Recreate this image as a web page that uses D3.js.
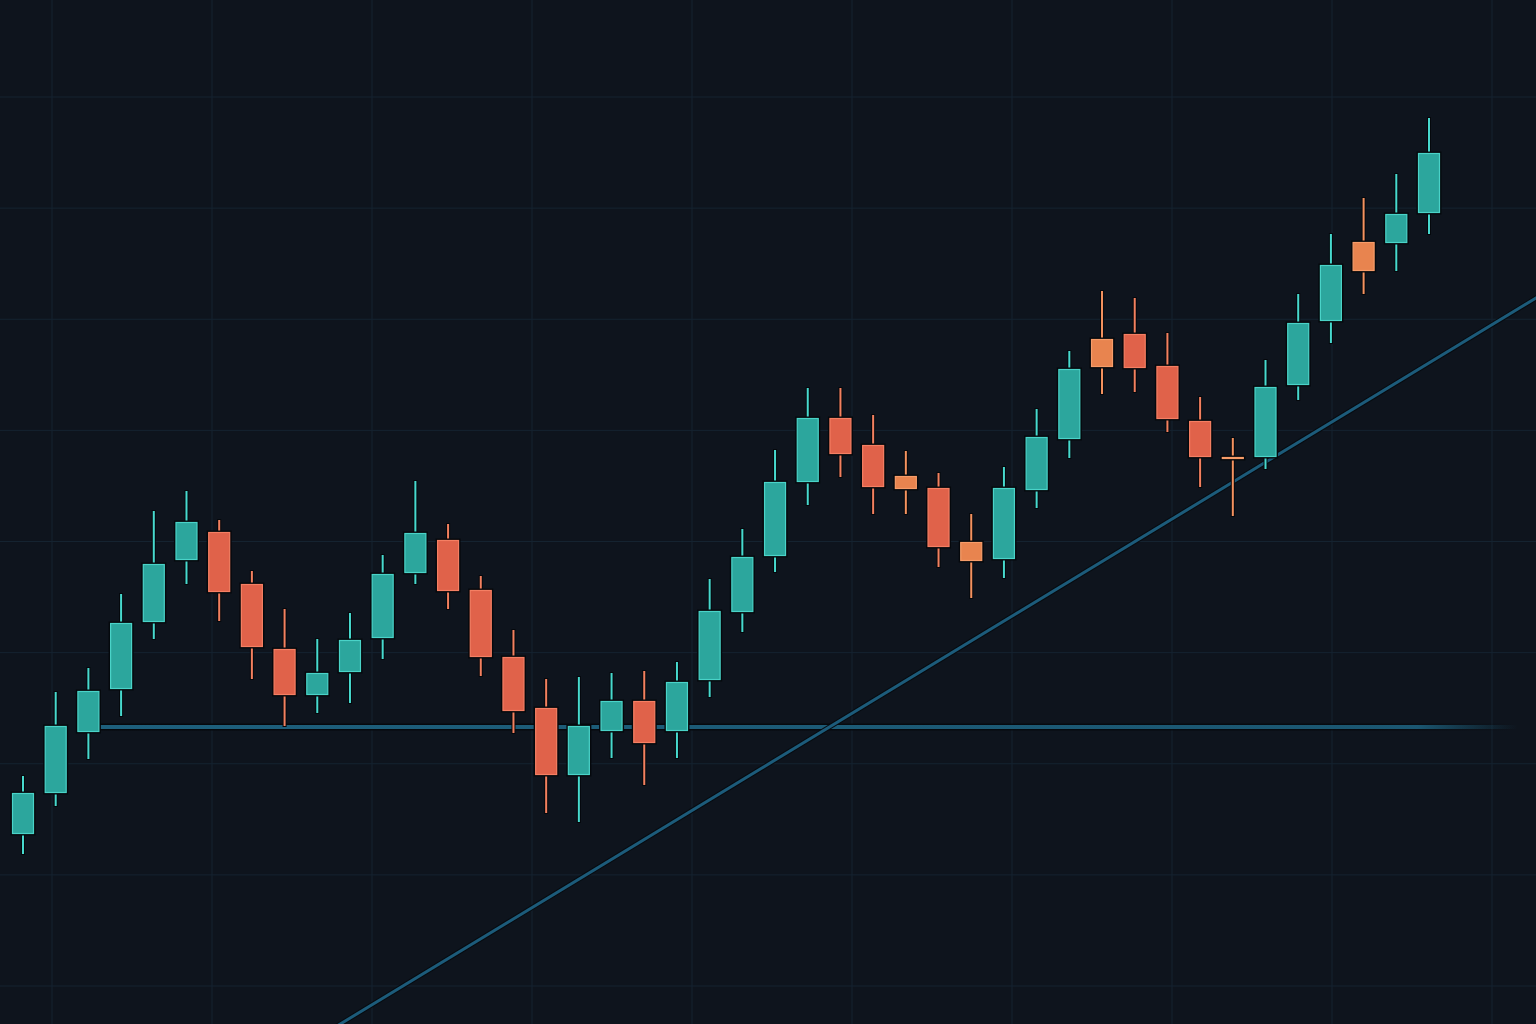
<!DOCTYPE html>
<html>
<head>
<meta charset="utf-8">
<script src="https://cdn.jsdelivr.net/npm/d3@7"></script>
<style>
  html, body { margin: 0; padding: 0; background: #0e141d; overflow: hidden; }
  svg { display: block; }
</style>
</head>
<body>
<svg id="chart" width="1536" height="1024"></svg>
<script>
(function () {
  'use strict';

  // ─── Data ─────────────────────────────────────────
  const opens  = [89.3, 93.4, 99.5, 103.8, 110.5, 116.7, 119.5, 114.3, 107.8, 103.2, 105.5,
                  108.9, 115.4, 118.7, 113.7, 107.0, 101.9, 95.2, 99.6, 102.6, 99.6, 104.7,
                  111.5, 117.1, 124.5, 130.9, 128.2, 125.1, 123.9, 118.5, 116.8, 123.7,
                  128.8, 138.8, 139.3, 136.1, 130.6, 127.0, 127.0, 134.2, 140.6, 148.5, 148.4, 151.4];
  const highs  = [95.1, 103.5, 105.9, 113.3, 121.6, 123.6, 120.7, 115.6, 111.8, 108.8, 111.4,
                  117.2, 124.6, 120.3, 115.1, 109.7, 104.8, 105.0, 105.4, 105.6, 106.5, 114.8,
                  119.8, 127.7, 133.9, 133.9, 131.2, 127.6, 125.4, 121.3, 126.0, 131.8,
                  137.6, 143.6, 142.9, 139.4, 133.0, 128.9, 136.7, 143.3, 149.3, 152.9, 155.3, 160.9];
  const lows   = [87.3, 92.1, 96.8, 101.1, 108.8, 114.3, 110.6, 104.8, 100.1, 101.4, 102.4,
                  106.8, 114.3, 111.8, 105.1, 99.4, 91.4, 90.5, 96.9, 94.2, 96.9, 103.0,
                  109.5, 115.5, 122.2, 125.0, 121.3, 121.3, 116.0, 112.9, 114.9, 121.9,
                  126.9, 133.3, 133.5, 129.5, 124.0, 121.1, 125.8, 132.7, 138.4, 143.3, 145.6, 149.3];
  const closes = [93.4, 100.1, 103.6, 110.4, 116.3, 120.5, 113.5, 108.0, 103.2, 105.4, 108.7,
                  115.3, 119.4, 113.6, 107.0, 101.6, 95.2, 100.1, 102.6, 98.4, 104.5, 111.6,
                  117.0, 124.5, 130.9, 127.3, 124.0, 123.8, 118.0, 116.6, 123.9, 129.0,
                  135.8, 136.0, 135.9, 130.8, 127.0, 127.0, 134.0, 140.4, 146.2, 145.6, 151.3, 157.4];
  const sessions = opens.map(function (_, i) { return i; });

  // support level and the rising trend line (two anchor sessions)
  const supportLevel = 100;
  const supportFrom = 2;
  const supportTo = 45.7;
  const trendSessions = [16, 43];
  const trendPrices = [82.8, 136.4];

  const W = 1536, H = 1024;

  const candles = sessions.map(function (i) {
    return { i: i, o: opens[i], h: highs[i], l: lows[i], c: closes[i] };
  });

  // ─── Scales ───────────────────────────────────────
  const x = d3.scaleLinear().domain([0, sessions.length - 1]).range([23, 1429]);
  const y = d3.scaleLinear().domain([70.3, 172.7]).range([H, 0]);
  const bodyW = 22;

  const gridX = d3.scaleLinear().domain([0, 9]).range([52, 1492]);
  const gridY = d3.scaleLinear().domain([0, 8]).range([97, 986]);

  const UP = { fill: '#2ca69d', edge: '#4ad3c8', wick: '#47d9ce' };
  const DOWN = { fill: '#e0624a', edge: '#f57f63', wick: '#f3805f' };
  const WARM = { fill: '#e8844f', edge: '#f69c69', wick: '#f4925f' };

  function tone(d) {
    if (d.c > d.o) return UP;
    return Math.abs(d.o - d.c) < 3.0 ? WARM : DOWN;
  }

  const svg = d3.select('#chart');
  const defs = svg.append('defs');

  // ─── Background & grid ────────────────────────────
  svg.append('rect').attr('width', W).attr('height', H).attr('fill', '#0e141d');

  const grid = svg.append('g').attr('class', 'grid')
    .attr('stroke', '#152330').attr('stroke-width', 1);
  d3.range(10).forEach(function (k) {
    grid.append('line')
      .attr('x1', gridX(k)).attr('x2', gridX(k))
      .attr('y1', 0).attr('y2', H);
  });
  d3.range(9).forEach(function (k) {
    grid.append('line')
      .attr('x1', 0).attr('x2', W)
      .attr('y1', gridY(k)).attr('y2', gridY(k));
  });

  // ─── Support line (fades out to the right) ────────
  const fade = defs.append('linearGradient')
    .attr('id', 'support-fade')
    .attr('gradientUnits', 'userSpaceOnUse')
    .attr('x1', x(supportFrom)).attr('x2', x(supportTo))
    .attr('y1', 0).attr('y2', 0);
  fade.append('stop').attr('offset', '0').attr('stop-color', '#1d5f7c').attr('stop-opacity', 1);
  fade.append('stop').attr('offset', '0.93').attr('stop-color', '#1d5f7c').attr('stop-opacity', 0.9);
  fade.append('stop').attr('offset', '1').attr('stop-color', '#1d5f7c').attr('stop-opacity', 0);

  const fadeDark = defs.append('linearGradient')
    .attr('id', 'support-fade-dark')
    .attr('gradientUnits', 'userSpaceOnUse')
    .attr('x1', x(supportFrom)).attr('x2', x(supportTo))
    .attr('y1', 0).attr('y2', 0);
  fadeDark.append('stop').attr('offset', '0').attr('stop-color', '#05080c').attr('stop-opacity', 1);
  fadeDark.append('stop').attr('offset', '0.9').attr('stop-color', '#05080c').attr('stop-opacity', 0.8);
  fadeDark.append('stop').attr('offset', '1').attr('stop-color', '#05080c').attr('stop-opacity', 0);

  svg.append('rect')
    .attr('x', x(supportFrom)).attr('width', x(supportTo) - x(supportFrom))
    .attr('y', y(supportLevel) - 3.5).attr('height', 7)
    .attr('fill', 'url(#support-fade-dark)');
  svg.append('rect')
    .attr('x', x(supportFrom)).attr('width', x(supportTo) - x(supportFrom))
    .attr('y', y(supportLevel) - 2).attr('height', 4)
    .attr('fill', 'url(#support-fade)');

  // ─── Trend line ───────────────────────────────────
  const slope = (trendPrices[1] - trendPrices[0]) / (trendSessions[1] - trendSessions[0]);
  const trendAt = function (i) { return trendPrices[0] + slope * (i - trendSessions[0]); };
  const tStart = x.invert(0) - 20, tEnd = x.invert(W) + 2;
  const trend = svg.append('g');
  trend.append('line')
    .attr('x1', x(tStart)).attr('y1', y(trendAt(tStart)))
    .attr('x2', x(tEnd)).attr('y2', y(trendAt(tEnd)))
    .attr('stroke', '#070b10').attr('stroke-width', 5);
  trend.append('line')
    .attr('x1', x(tStart)).attr('y1', y(trendAt(tStart)))
    .attr('x2', x(tEnd)).attr('y2', y(trendAt(tEnd)))
    .attr('stroke', '#1c5b7a').attr('stroke-width', 3);

  // ─── Candles ──────────────────────────────────────
  const g = svg.append('g').attr('class', 'candles')
    .selectAll('g')
    .data(candles)
    .join('g');

  // wick shadow + wick
  g.append('rect')
    .attr('x', function (d) { return x(d.i) - 2; })
    .attr('width', 4)
    .attr('y', function (d) { return y(d.h) - 1; })
    .attr('height', function (d) { return y(d.l) - y(d.h) + 2; })
    .attr('fill', '#05080c');
  g.append('rect')
    .attr('x', function (d) { return x(d.i) - 1; })
    .attr('width', 2)
    .attr('y', function (d) { return y(d.h); })
    .attr('height', function (d) { return y(d.l) - y(d.h); })
    .attr('fill', function (d) { return tone(d).wick; });

  // body shadow + body
  g.append('rect')
    .attr('x', function (d) { return x(d.i) - bodyW / 2 - 1.5; })
    .attr('width', bodyW + 3)
    .attr('y', function (d) { return y(Math.max(d.o, d.c)) - 1.5; })
    .attr('height', function (d) { return Math.max(2, Math.abs(y(d.o) - y(d.c))) + 3; })
    .attr('fill', '#05080c');
  g.append('rect')
    .attr('x', function (d) { return x(d.i) - bodyW / 2 + 0.5; })
    .attr('width', bodyW - 1)
    .attr('y', function (d) { return y(Math.max(d.o, d.c)) + 0.5; })
    .attr('height', function (d) { return Math.max(1, Math.abs(y(d.o) - y(d.c)) - 1); })
    .attr('fill', function (d) { return tone(d).fill; })
    .attr('stroke', function (d) { return tone(d).edge; })
    .attr('stroke-width', 1.2);
})();
</script>
</body>
</html>
